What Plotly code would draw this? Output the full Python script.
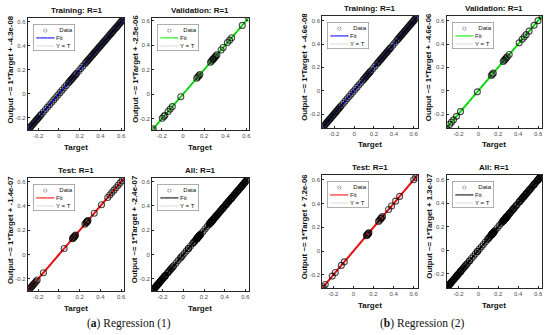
import numpy as np
import plotly.graph_objects as go

# ---------------- data (targets; R = 1 so outputs == targets) -------------
a_train_target = [
    -0.30, -0.29, -0.28, -0.27, -0.26, -0.25, -0.24, -0.23, -0.22, -0.21, -0.20, -0.19, -0.18, -0.17,
    -0.15, -0.13, -0.11, -0.09, -0.07, -0.05, -0.03, -0.01, 0.01, 0.03, 0.05, 0.07, 0.09,
    0.10, 0.11, 0.12, 0.13, 0.14, 0.15, 0.16, 0.17,
    0.19, 0.21, 0.23,
    0.25, 0.26, 0.27, 0.28, 0.29, 0.30, 0.31, 0.32, 0.33, 0.34, 0.35, 0.36, 0.37, 0.38, 0.39,
    0.40, 0.41, 0.42, 0.43, 0.44, 0.45, 0.46, 0.47, 0.48, 0.49, 0.50, 0.51, 0.52, 0.53, 0.54,
    0.55, 0.56, 0.57, 0.58, 0.59, 0.60, 0.61, 0.62, 0.63,
]
a_train_output = list(a_train_target)

a_val_target = [
    -0.29, -0.28, -0.195, -0.18, -0.17, -0.14, -0.12, -0.10, -0.02, 0.13, 0.14, 0.15, 0.16,
    0.26, 0.27, 0.28, 0.285, 0.29, 0.30, 0.31, 0.32, 0.36, 0.38, 0.42, 0.44, 0.46, 0.56, 0.62,
]
a_val_output = list(a_val_target)

a_test_target = [
    -0.30, -0.29, -0.28, -0.27, -0.26, -0.25, -0.24, -0.23, -0.22, -0.21, -0.15, 0.05,
    0.13, 0.135, 0.14, 0.145, 0.15, 0.155, 0.16, 0.25, 0.26, 0.265, 0.27, 0.275, 0.28,
    0.34, 0.41, 0.47, 0.49, 0.51, 0.53, 0.55, 0.57, 0.59, 0.61, 0.63,
]
a_test_output = list(a_test_target)

b_train_target = [
    -0.32, -0.31, -0.30, -0.29, -0.28, -0.27, -0.26, -0.25, -0.24, -0.23, -0.22, -0.21, -0.20,
    -0.19, -0.18, -0.17, -0.16, -0.15, -0.14, -0.13,
    -0.11, -0.09, -0.07, -0.05, -0.03, -0.01, 0.01, 0.03, 0.05, 0.07, 0.09,
    0.10, 0.11, 0.12, 0.13, 0.14, 0.15, 0.16, 0.17,
    0.19, 0.21,
    0.23, 0.24, 0.25, 0.26, 0.27, 0.28, 0.29, 0.30, 0.31, 0.32, 0.33, 0.34, 0.35, 0.36, 0.37,
    0.39, 0.41,
    0.43, 0.44, 0.45, 0.46, 0.47, 0.48, 0.49, 0.50, 0.51, 0.52, 0.53, 0.54, 0.55, 0.56, 0.57,
    0.58, 0.59, 0.60, 0.61, 0.62, 0.63, 0.64,
]
b_train_output = list(b_train_target)

b_val_target = [
    -0.32, -0.29, -0.27, -0.25, -0.22, -0.18, -0.01, 0.13, 0.14, 0.15, 0.25, 0.26, 0.27, 0.28,
    0.29, 0.31, 0.41, 0.44, 0.46, 0.48, 0.51, 0.56, 0.60, 0.64,
]
b_val_output = list(b_val_target)

b_test_target = [
    -0.31, -0.30, -0.28, -0.21, -0.18, -0.12, -0.09, 0.13, 0.135, 0.14, 0.145, 0.15, 0.155,
    0.25, 0.26, 0.27, 0.275, 0.28, 0.29, 0.35, 0.38, 0.42, 0.46, 0.60, 0.62, 0.64,
]
b_test_output = list(b_test_target)

# "All" panels combine the three subsets
a_all_target = a_train_target + a_val_target + a_test_target
a_all_output = a_train_output + a_val_output + a_test_output
b_all_target = b_train_target + b_val_target + b_test_target
b_all_output = b_train_output + b_val_output + b_test_output

panel_titles = ["Training: R=1", "Validation: R=1", "Test: R=1", "All: R=1"] * 2
y_titles = [
    "Output ~= 1*Target + -4.3e-08", "Output ~= 1*Target + -2.5e-06",
    "Output ~= 1*Target + -1.4e-07", "Output ~= 1*Target + -2.4e-07",
    "Output ~= 1*Target + -4.6e-08", "Output ~= 1*Target + -4.6e-06",
    "Output ~= 1*Target + 7.2e-06", "Output ~= 1*Target + 1.3e-07",
]
x_title = "Target"
tick_values = [-0.2, 0, 0.2, 0.4, 0.6]
tick_labels = ["-0.2", "0", "0.2", "0.4", "0.6"]
captions = ["(<b>a</b>) Regression (1)", "(<b>b</b>) Regression (2)"]

panel_data = [
    (a_train_target, a_train_output), (a_val_target, a_val_output),
    (a_test_target, a_test_output), (a_all_target, a_all_output),
    (b_train_target, b_train_output), (b_val_target, b_val_output),
    (b_test_target, b_test_output), (b_all_target, b_all_output),
]

# ---------------- style / layout ----------------
W, H = 550, 335
fit_colors = ["#0000ff", "#00ee00", "#ff0000", "#000000"] * 2
# plot boxes in pixels: (left, right, top, bottom)
boxes = [
    (28, 125, 18, 130), (153, 250, 18, 130), (28, 125, 178, 291), (153, 250, 178, 291),
    (324, 420, 16, 128), (449, 545, 16, 128), (324, 420, 175, 288), (449, 545, 175, 288),
]
caption_pos = [(130, 323), (425, 323)]

def px(x):
    return x / W

def py(y):
    return 1 - y / H

fig = go.Figure()
layout = dict(
    width=W, height=H, margin=dict(l=0, r=0, t=0, b=0),
    paper_bgcolor="white", plot_bgcolor="white", showlegend=False,
    font=dict(family="Liberation Sans, Arial, sans-serif"),
)
annotations = []
nb = "\u00a0"
marker_col = "rgba(0,0,0,0.7)"

for i, ((t, y), box) in enumerate(zip(panel_data, boxes)):
    k = "" if i == 0 else str(i + 1)
    xa, ya = "x" + k, "y" + k
    t = np.asarray(t, float)
    y = np.asarray(y, float)
    lo = float(min(t.min(), y.min()))
    hi = float(max(t.max(), y.max()))
    slope, intercept = np.polyfit(t, y, 1)
    ends = np.array([lo, hi])

    fig.add_trace(go.Scatter(x=ends, y=slope * ends + intercept, mode="lines",
                             line=dict(color=fit_colors[i], width=2),
                             xaxis=xa, yaxis=ya, hoverinfo="skip"))
    fig.add_trace(go.Scatter(x=ends, y=ends, mode="lines",
                             line=dict(color="#666666", width=0.8, dash="dot"),
                             xaxis=xa, yaxis=ya, hoverinfo="skip"))
    fig.add_trace(go.Scatter(x=t, y=y, mode="markers",
                             marker=dict(symbol="circle-open", size=6,
                                         color=marker_col,
                                         line=dict(width=1.1, color=marker_col)),
                             xaxis=xa, yaxis=ya))

    l, r, tp, b = box
    axis_common = dict(
        range=[lo, hi], showgrid=False, zeroline=False, showline=True, mirror=True,
        linecolor="#262626", linewidth=1, ticks="inside", ticklen=2, tickcolor="#262626",
        tickvals=tick_values, ticktext=tick_labels,
        tickfont=dict(size=6, color="#4d4d4d", family="Liberation Sans, Arial"),
    )
    layout["xaxis" + k] = dict(axis_common, domain=[px(l), px(r)], anchor=ya)
    layout["yaxis" + k] = dict(axis_common, domain=[py(b), py(tp)], anchor=xa)

    # title
    annotations.append(dict(xref="paper", yref="paper", x=px((l + r) / 2), y=py(tp - 1),
                            xanchor="center", yanchor="bottom", showarrow=False,
                            text=f"<b>{panel_titles[i]}</b>",
                            font=dict(size=8, color="#111")))
    # x title
    annotations.append(dict(xref="paper", yref="paper", x=px((l + r) / 2), y=py(b + 17),
                            xanchor="center", yanchor="middle", showarrow=False,
                            text=f"<b>{x_title}</b>", font=dict(size=8, color="#111")))
    # y title
    annotations.append(dict(xref="paper", yref="paper", x=px(l - 17.5), y=py((tp + b) / 2 - 5),
                            xanchor="center", yanchor="middle", showarrow=False, textangle=-90,
                            text=f"<b>{y_titles[i]}</b>", font=dict(size=7.8, color="#111")))
    # legend
    mono = "font-family:DejaVu Sans Mono"
    row1 = f'<span style="{mono}">{nb*2}○{nb*2}</span>{nb*3}Data'
    row2 = f'<span style="{mono};color:{fit_colors[i]}">━━━━━</span>{nb}Fit'
    row3 = f'<span style="{mono};color:#888888">┈┈┈┈┈</span>{nb}Y = T'
    annotations.append(dict(xref="paper", yref="paper", x=px(l + 5), y=py(tp + 6),
                            xanchor="left", yanchor="top", showarrow=False, align="left",
                            text="<br>".join([row1, row2, row3]),
                            font=dict(size=6, color="#111"),
                            bordercolor="#9a9a9a", borderwidth=0.8, borderpad=1.5,
                            bgcolor="white"))

for cap, (cx, cy) in zip(captions, caption_pos):
    annotations.append(dict(xref="paper", yref="paper", x=px(cx), y=py(cy),
                            xanchor="center", yanchor="middle", showarrow=False, text=cap,
                            font=dict(size=11.5, color="#111",
                                      family="Liberation Serif, DejaVu Serif, serif")))

layout["annotations"] = annotations
fig.update_layout(**layout)
fig.write_html("out.html", config={"displayModeBar": False},
               post_script="document.body.style.margin='0';document.body.style.padding='0';")
